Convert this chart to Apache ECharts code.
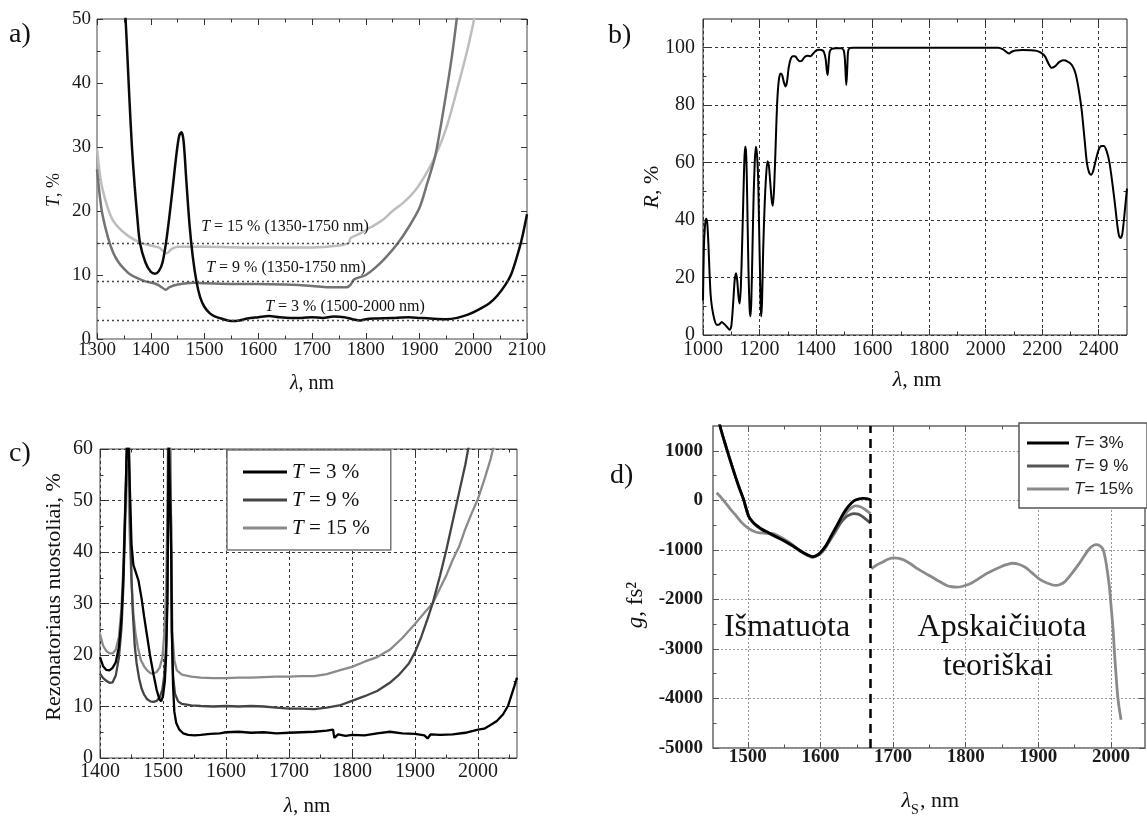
<!DOCTYPE html>
<html><head><meta charset="utf-8">
<script src="https://cdn.jsdelivr.net/npm/echarts@6/dist/echarts.min.js"></script>
<style>html,body{margin:0;padding:0;background:#fff}#c{width:1147px;height:818px}</style>
</head><body><div id="c"></div>
<script>
// ---------------- DATA ----------------
// Panel a) transmission T, %
const aT3 = [[1350,55],[1355,47],[1360,38],[1365,30],[1370,24],[1375,19],[1380,15],[1390,12],[1400,10.5],[1408,10.2],[1415,10.6],[1422,12],[1430,16],[1440,23],[1448,29],[1453,31.8],[1457,32.3],[1461,31],[1466,25],[1472,18],[1478,13],[1485,9],[1492,6.5],[1500,5],[1510,4],[1520,3.5],[1535,3.1],[1550,2.8],[1565,2.9],[1580,3.2],[1600,3.4],[1620,3.6],[1640,3.4],[1660,3.3],[1680,3.3],[1700,3.4],[1720,3.3],[1740,3.5],[1760,3.4],[1775,3.1],[1790,2.9],[1800,3.1],[1820,3.2],[1850,3.3],[1880,3.4],[1900,3.3],[1920,3.2],[1950,3.1],[1970,3.3],[1990,3.8],[2010,4.6],[2030,5.6],[2045,6.8],[2060,8.5],[2070,10],[2080,12.5],[2090,15.5],[2100,19.5]];
const aT9 = [[1300,26.5],[1305,22.5],[1310,19.5],[1320,16],[1330,13.5],[1340,12],[1350,11],[1360,10.2],[1375,9.5],[1390,9],[1410,8.6],[1420,8.1],[1428,7.7],[1435,8.1],[1450,8.5],[1480,8.8],[1500,8.7],[1550,8.6],[1600,8.6],[1650,8.5],[1700,8.3],[1730,8.1],[1765,8.1],[1772,8.5],[1778,9.3],[1800,10],[1820,11.3],[1840,13],[1860,15],[1880,17.5],[1900,20.5],[1915,24.5],[1929,28.5],[1945,36],[1960,44],[1970,50.5]];
const aT15 = [[1300,29.8],[1305,26],[1310,23.5],[1320,20.5],[1330,18.5],[1345,17],[1360,16],[1380,15.1],[1400,14.6],[1415,14.3],[1425,13.6],[1430,13.4],[1438,14],[1450,14.4],[1500,14.4],[1600,14.3],[1700,14.3],[1750,14.6],[1768,15],[1772,15.8],[1790,16.5],[1810,17.5],[1830,18.5],[1850,20],[1870,21.3],[1890,23],[1910,25.5],[1929,28.5],[1950,33],[1970,39],[1990,45.5],[2003,50.5]];
const aRefLevels = [3, 9, 15];
const aRefTexts = ['T = 15 % (1350-1750 nm)', 'T = 9 % (1350-1750 nm)', 'T = 3 % (1500-2000 nm)'];
const aXMajor = [1300,1400,1500,1600,1700,1800,1900,2000,2100];
const aXMinor = [1350,1450,1550,1650,1750,1850,1950,2050];
const aYMajor = [0,10,20,30,40,50];
const aYMinor = [5,15,25,35,45];

// Panel b) reflection R, %
const bR = [[1000,12],[1003,30],[1007,38],[1011,40.5],[1015,39],[1019,32],[1023,22],[1027,14],[1032,9.5],[1040,5.5],[1048,3.6],[1056,3.6],[1066,4.5],[1075,3.8],[1085,2.8],[1094,1.8],[1100,3],[1106,10],[1112,19],[1117,21.5],[1121,19],[1126,13],[1130,11],[1134,17],[1138,30],[1142,45],[1146,60],[1149,65.5],[1152,64],[1155,55],[1158,38],[1161,22],[1165,9],[1168,6.5],[1171,12],[1175,30],[1179,48],[1183,60],[1187,65.5],[1191,63],[1195,55],[1198,40],[1201,25],[1204,10],[1206,6.5],[1209,12],[1213,30],[1218,45],[1223,55],[1228,60.5],[1233,59],[1238,53],[1243,47],[1247,45],[1251,50],[1255,60],[1259,72],[1263,82],[1268,88.5],[1274,91],[1280,90.5],[1286,88],[1292,86.5],[1297,88],[1303,93],[1310,96],[1318,97],[1326,97],[1334,96],[1342,95.3],[1350,95.5],[1360,96.8],[1370,97.2],[1380,97],[1390,98],[1400,99],[1410,99.3],[1420,99.2],[1428,98.5],[1434,96],[1438,92],[1441,90.5],[1444,94],[1448,98.5],[1455,99.6],[1470,99.8],[1490,99.8],[1498,99],[1502,96],[1505,90],[1507,87],[1510,92],[1513,98.5],[1518,99.8],[1530,100],[1600,100],[1800,100],[2000,100],[2045,100],[2060,99.5],[2075,98.4],[2083,98],[2092,98.6],[2105,99],[2130,99.2],[2160,99.1],[2180,98.9],[2195,98.3],[2210,97],[2222,94.5],[2233,93],[2245,93.5],[2260,95],[2275,95.6],[2290,95.2],[2305,94],[2318,91],[2330,85],[2340,78],[2350,68],[2358,60],[2366,56.5],[2373,55.8],[2380,57],[2390,61],[2400,64.5],[2410,65.8],[2418,65.8],[2428,64],[2438,60],[2448,53],[2458,45],[2466,38],[2472,34.5],[2477,33.8],[2483,35],[2488,39],[2494,45],[2500,51]];
const bXMajor = [1000,1200,1400,1600,1800,2000,2200,2400];
const bXMinor = [1100,1300,1500,1700,1900,2100,2300];
const bYMajor = [0,20,40,60,80,100];
const bYMinor = [10,30,50,70,90];

// Panel c) resonator losses, %
const cT3 = [[1400,19.6],[1405,17.8],[1410,17.1],[1415,17],[1420,17.5],[1425,18.6],[1430,21.5],[1434,27],[1437,35],[1440,48],[1442,58],[1444,66],[1446,66],[1448,50],[1450,41.5],[1453,37.5],[1457,36],[1461,34.5],[1466,31],[1470,27.5],[1475,23.5],[1480,19.5],[1485,16.2],[1490,13.2],[1494,11.5],[1497,11],[1500,12],[1503,15],[1505,20],[1507,30],[1508,45],[1509,62],[1512,62],[1513,40],[1514,25],[1516,14],[1518,9],[1521,6.8],[1526,5.5],[1532,4.8],[1540,4.5],[1550,4.4],[1560,4.5],[1575,4.7],[1590,4.8],[1600,5],[1620,5.1],[1640,4.9],[1660,5],[1680,4.8],[1700,4.9],[1720,5],[1740,5.1],[1760,5.3],[1770,5.5],[1772,3.9],[1778,4.6],[1790,4.3],[1800,4.5],[1820,4.4],[1840,4.8],[1860,5.1],[1880,4.8],[1900,4.7],[1915,4.4],[1920,3.8],[1925,4.6],[1940,4.5],[1960,4.6],[1980,4.9],[2000,5.5],[2010,5.7],[2020,6.4],[2030,7.2],[2040,8.5],[2048,10.2],[2054,12.5],[2058,14],[2062,15.6]];
const cT9 = [[1400,16.4],[1405,15.5],[1410,15],[1415,14.6],[1420,14.7],[1425,16],[1430,19.5],[1434,25],[1437,33],[1440,46],[1442,58],[1444,66],[1446,62],[1448,46],[1450,35],[1452,28.5],[1455,22],[1458,18.5],[1462,15.5],[1466,13.5],[1470,12.3],[1475,11.4],[1480,11],[1485,10.9],[1490,11.1],[1495,11.8],[1499,13.3],[1502,16],[1505,22],[1507,33],[1508,50],[1509,65],[1512,65],[1513,45],[1514,25],[1516,16],[1519,12.5],[1524,11],[1530,10.5],[1545,10.2],[1560,10.1],[1580,10],[1600,10.1],[1620,10],[1640,10.1],[1660,10],[1680,9.8],[1700,9.6],[1720,9.6],[1740,9.5],[1760,9.8],[1780,10.2],[1800,11.1],[1820,12],[1840,13],[1860,14.6],[1875,16.2],[1890,18.3],[1900,20.5],[1910,23.5],[1920,27],[1928,30],[1940,35.5],[1950,40.5],[1960,46],[1970,51.5],[1980,57],[1986,61]];
const cT15 = [[1400,24],[1405,21.8],[1410,20.8],[1415,20.3],[1420,20.3],[1425,21],[1430,23.5],[1434,29],[1437,37],[1440,49],[1442,55],[1443,57],[1445,53],[1447,44],[1450,34],[1453,28],[1456,24.5],[1460,21.5],[1465,19],[1470,17.8],[1475,17],[1480,16.5],[1485,16.4],[1490,16.7],[1495,17.6],[1499,19.5],[1502,24],[1505,33],[1507,48],[1508,62],[1512,62],[1513,40],[1515,24],[1518,19],[1522,17],[1530,16.2],[1545,15.8],[1560,15.6],[1580,15.5],[1600,15.5],[1620,15.6],[1640,15.6],[1660,15.7],[1680,15.8],[1700,15.8],[1720,15.9],[1740,15.9],[1760,16.3],[1780,17],[1800,17.7],[1820,18.7],[1840,19.6],[1860,21],[1880,23.3],[1900,26],[1915,28.2],[1928,30],[1940,33],[1950,35.5],[1960,38.5],[1970,41],[1980,44.5],[1990,47.5],[2000,50.3],[2010,54],[2020,58],[2026,61]];
const cNames = ['T = 3 %', 'T = 9 %', 'T = 15 %'];
const cXMajor = [1400,1500,1600,1700,1800,1900,2000];
const cXMinor = [1450,1550,1650,1750,1850,1950,2050];
const cYMajor = [0,10,20,30,40,50,60];
const cYMinor = [5,15,25,35,45,55];

// Panel d) GDD g, fs^2
const dT3 = [[1458,1750],[1462,1480],[1470,1080],[1479,655],[1487,300],[1494,20],[1501,-315],[1507,-440],[1513,-515],[1520,-590],[1528,-650],[1540,-740],[1550,-816],[1562,-920],[1572,-1017],[1582,-1100],[1589,-1137],[1595,-1110],[1600,-1050],[1608,-900],[1616,-682],[1624,-470],[1631,-281],[1638,-130],[1646,-13],[1652,25],[1658,40],[1664,35],[1669,10]];
const dT9 = [[1458,1750],[1462,1480],[1470,1080],[1479,655],[1487,300],[1494,20],[1501,-320],[1507,-450],[1513,-530],[1520,-600],[1528,-660],[1540,-750],[1550,-820],[1562,-925],[1572,-1025],[1582,-1110],[1589,-1145],[1595,-1120],[1600,-1070],[1608,-920],[1616,-720],[1624,-530],[1631,-400],[1638,-310],[1646,-270],[1652,-280],[1658,-330],[1664,-400],[1669,-460]];
const dT15 = [[1457,154],[1463,60],[1469,-47],[1476,-180],[1484,-314],[1491,-440],[1499,-548],[1506,-610],[1513,-650],[1523,-665],[1533,-669],[1542,-720],[1550,-783],[1562,-900],[1572,-1017],[1582,-1110],[1589,-1150],[1595,-1120],[1602,-1050],[1610,-880],[1619,-682],[1628,-450],[1636,-247],[1642,-160],[1648,-114],[1655,-130],[1661,-180],[1669,-270]];
const dTheory = [[1670,-1385],[1677,-1310],[1685,-1251],[1693,-1190],[1702,-1164],[1708,-1170],[1715,-1204],[1725,-1290],[1734,-1385],[1744,-1470],[1754,-1552],[1764,-1640],[1774,-1719],[1781,-1745],[1788,-1753],[1796,-1735],[1806,-1686],[1817,-1590],[1828,-1485],[1838,-1410],[1847,-1351],[1856,-1300],[1865,-1271],[1873,-1290],[1882,-1351],[1891,-1460],[1901,-1585],[1912,-1670],[1924,-1719],[1930,-1700],[1936,-1652],[1946,-1480],[1956,-1284],[1963,-1130],[1970,-983],[1975,-920],[1980,-896],[1985,-920],[1989,-983],[1992,-1150],[1995,-1418],[1998,-1750],[2000,-2087],[2003,-2600],[2005,-3090],[2007,-3500],[2009,-3893],[2011,-4150],[2014,-4428]];
const dBoundary = 1669;
const dNames = ['T= 3%', 'T= 9 %', 'T= 15%'];
const dXMajor = [1500,1600,1700,1800,1900,2000];
const dXMinor = [1550,1650,1750,1850,1950];
const dYMajor = [-5000,-4000,-3000,-2000,-1000,0,1000];
const dYMinor = [-4500,-3500,-2500,-1500,-500,500];

// ---------------- CHART ----------------
const SERIF = "'Liberation Serif','Times New Roman',Times,serif";
const SANS = "'Liberation Sans',Arial,Helvetica,sans-serif";

const xAxes = [], yAxes = [];
function mirror(gi, pos, c, vals, len) {
  return {
    type: 'value', gridIndex: gi, position: pos, min: c.min, max: c.max,
    axisLine: {show: false, onZero: false},
    axisTick: {show: true, inside: true, length: len, customValues: vals, lineStyle: {color: c.tickColor || '#333', width: 1}},
    minorTick: {show: false},
    axisLabel: {show: false},
    splitLine: {show: false}
  };
}
function build(list, gi, isX, c) {
  const main = list.length;
  const posA = isX ? 'bottom' : 'left', posB = isX ? 'top' : 'right';
  list.push({
    type: 'value', gridIndex: gi, position: posA, min: c.min, max: c.max,
    minInterval: c.step, maxInterval: c.step,
    axisLine: {show: false, onZero: false},
    axisTick: {show: true, inside: true, length: 6, customValues: c.major, lineStyle: {color: c.tickColor || '#333', width: 1}},
    minorTick: {show: false},
    axisLabel: {show: true, customValues: c.major, margin: c.margin, color: '#1a1a1a',
      fontFamily: SERIF, fontSize: c.size, fontWeight: c.weight || 'normal', formatter: v => String(v)},
    splitLine: c.split ? {show: true, lineStyle: c.split} : {show: false}
  });
  list.push(mirror(gi, posB, c, c.major, 6));
  list.push(mirror(gi, posA, c, c.minor, 3.5));
  list.push(mirror(gi, posB, c, c.minor, 3.5));
  return main;
}

const bSplit = {color: '#333', type: [3, 3], width: 1};
const cSplit = {color: '#333', type: [3, 3], width: 1};
const dSplit = {color: '#999', type: [2, 2], width: 1};

const ax = build(xAxes, 0, true, {min: 1300, max: 2100, step: 100, major: aXMajor, minor: aXMinor, margin: 2, size: 19});
const ay = build(yAxes, 0, false, {min: 0, max: 50, step: 10, major: aYMajor, minor: aYMinor, margin: 6, size: 19});
const bx = build(xAxes, 1, true, {min: 1000, max: 2500, step: 200, major: bXMajor, minor: bXMinor, margin: 5, size: 20, split: bSplit});
const by = build(yAxes, 1, false, {min: 0, max: 110, step: 20, major: bYMajor, minor: bYMinor, margin: 8, size: 20, split: bSplit});
const cx = build(xAxes, 2, true, {min: 1400, max: 2062, step: 100, major: cXMajor, minor: cXMinor, margin: 4, size: 20, split: cSplit});
const cy = build(yAxes, 2, false, {min: 0, max: 60, step: 10, major: cYMajor, minor: cYMinor, margin: 7, size: 20, split: cSplit});
const dx = build(xAxes, 3, true, {min: 1452, max: 2047, step: 100, major: dXMajor, minor: dXMinor, margin: 0, size: 19, weight: 'bold', split: dSplit, tickColor: '#555'});
const dy = build(yAxes, 3, false, {min: -5000, max: 1500, step: 1000, major: dYMajor, minor: dYMinor, margin: 10, size: 19, weight: 'bold', split: dSplit, tickColor: '#555'});

function line(name, xi, yi, data, color, width, smooth, z, extra) {
  return Object.assign({
    type: 'line', name: name, xAxisIndex: xi, yAxisIndex: yi, data: data,
    symbol: 'none', showSymbol: false, smooth: smooth, color: color,
    lineStyle: {color: color, width: width}, silent: true, z: z, clip: true
  }, extra || {});
}

const series = [
  line('a15', ax, ay, aT15, '#bdbdbd', 2.5, 0.3, 2, {
    markLine: {silent: true, symbol: ['none', 'none'], label: {show: false}, animation: false,
      lineStyle: {color: '#444', type: [2, 3], width: 1.3},
      data: aRefLevels.map(v => ({yAxis: v}))}
  }),
  line('a9', ax, ay, aT9, '#737373', 2.5, 0.3, 3),
  line('a3', ax, ay, aT3, '#0a0a0a', 2.5, 0.3, 4),
  line('b', bx, by, bR, '#000', 2, 0.25, 3),
  line(cNames[2], cx, cy, cT15, '#8a8a8a', 2.3, false, 2),
  line(cNames[1], cx, cy, cT9, '#444', 2.3, false, 3),
  line(cNames[0], cx, cy, cT3, '#000', 2.3, false, 4),
  line('Apskaičiuota', dx, dy, dTheory, '#8a8a8a', 2.8, 0.3, 2),
  line(dNames[2], dx, dy, dT15, '#8a8a8a', 2.8, 0.3, 3),
  line(dNames[1], dx, dy, dT9, '#555', 2.8, 0.3, 4),
  line(dNames[0], dx, dy, dT3, '#000', 2.8, 0.3, 5, {
    markLine: {silent: true, symbol: ['none', 'none'], label: {show: false}, animation: false,
      lineStyle: {color: '#000', type: [9, 6], width: 2.5},
      data: [{xAxis: dBoundary}]}
  })
];

function txt(x, y, text, size, opts) {
  opts = opts || {};
  return {
    type: 'text', x: x, y: y, rotation: opts.rot || 0, silent: true, z: 20,
    style: Object.assign({text: text, fontFamily: opts.font || SERIF, fontSize: size, fill: '#111',
      align: opts.align || 'center', verticalAlign: 'middle'}, opts.style || {})
  };
}
const serifRich = s => ({i: {fontStyle: 'italic', fontFamily: SERIF, fontSize: s, fill: '#111'}, n: {fontFamily: SERIF, fontSize: s, fill: '#111'}});
const italicFirst = t => '{i|' + t[0] + '}{n|' + t.slice(1) + '}';

const graphic = [
  txt(9, 35, 'a)', 28, {align: 'left'}),
  txt(608, 36, 'b)', 28, {align: 'left'}),
  txt(9, 454, 'c)', 28, {align: 'left'}),
  txt(610, 476, 'd)', 28, {align: 'left'}),
  // axis titles
  txt(54, 190, '{i|T}{n|, %}', 18, {rot: Math.PI / 2, style: {rich: serifRich(18)}}),
  txt(312, 384, '{i|λ}{n|, nm}', 20, {style: {rich: serifRich(20)}}),
  txt(652, 187, '{i|R}{n|, %}', 22, {rot: Math.PI / 2, style: {rich: serifRich(22)}}),
  txt(917, 380, '{i|λ}{n|, nm}', 22, {style: {rich: serifRich(22)}}),
  txt(54, 597, 'Rezonatoriaus nuostoliai, %', 22, {rot: Math.PI / 2}),
  txt(307, 806, '{i|λ}{n|, nm}', 21, {style: {rich: serifRich(21)}}),
  txt(636, 605, '{i|g}{n|, fs²}', 23, {rot: Math.PI / 2, style: {rich: serifRich(23)}}),
  txt(911, 801, 'λ', 22, {align: 'right', style: {fontStyle: 'italic'}}),
  txt(911, 810, 'S', 14, {align: 'left'}),
  txt(920, 801, ', nm', 22, {align: 'left'}),
  // panel a annotations
  txt(285, 227, italicFirst(aRefTexts[0]), 16, {style: {rich: serifRich(16)}}),
  txt(286, 268, italicFirst(aRefTexts[1]), 16, {style: {rich: serifRich(16)}}),
  txt(345, 307, italicFirst(aRefTexts[2]), 16, {style: {rich: serifRich(16)}}),
  // panel d texts
  txt(787, 628, 'Išmatuota', 32),
  txt(1002, 628, 'Apskaičiuota', 32),
  txt(998, 667, 'teoriškai', 32)
];

const option = {
  animation: false,
  backgroundColor: '#fff',
  textStyle: {fontFamily: SERIF},
  grid: [
    {left: 97, top: 19, width: 430, height: 320, show: true, borderColor: '#444', borderWidth: 1, backgroundColor: 'transparent', containLabel: false, outerBoundsMode: 'none'},
    {left: 703, top: 19, width: 424, height: 316, show: true, borderColor: '#222', borderWidth: 1, backgroundColor: 'transparent', containLabel: false, outerBoundsMode: 'none'},
    {left: 100, top: 449, width: 417, height: 309, show: true, borderColor: '#444', borderWidth: 1, backgroundColor: 'transparent', containLabel: false, outerBoundsMode: 'none'},
    {left: 713, top: 426, width: 432, height: 322, show: true, borderColor: '#666', borderWidth: 1.5, backgroundColor: 'transparent', containLabel: false, outerBoundsMode: 'none'}
  ],
  xAxis: xAxes,
  yAxis: yAxes,
  legend: [
    {data: cNames, orient: 'vertical', left: 227, top: 450, padding: [10, 21, 10, 16], itemGap: 4,
      itemWidth: 44, itemHeight: 3, icon: 'rect', borderColor: '#777', borderWidth: 1.5, backgroundColor: '#fff',
      selectedMode: false, z: 10,
      textStyle: {fontFamily: SERIF, fontSize: 21, color: '#111', lineHeight: 24, rich: serifRich(21)},
      formatter: n => italicFirst(n)},
    {data: dNames, orient: 'vertical', left: 1019, top: 423, padding: [10, 14, 9, 8], itemGap: 3,
      itemWidth: 42, itemHeight: 3, icon: 'rect', borderColor: '#555', borderWidth: 1.5, backgroundColor: '#fff',
      selectedMode: false, z: 10,
      textStyle: {fontFamily: SANS, fontSize: 17, color: '#222', lineHeight: 20,
        rich: {i: {fontStyle: 'italic', fontFamily: SANS, fontSize: 17, fill: '#222', color: '#222'}, n: {fontFamily: SANS, fontSize: 17, color: '#222'}}},
      formatter: n => italicFirst(n)}
  ],
  series: series,
  graphic: graphic
};

const chart = echarts.init(document.getElementById('c'), null, {renderer: 'canvas'});
chart.setOption(option);
</script></body></html>
